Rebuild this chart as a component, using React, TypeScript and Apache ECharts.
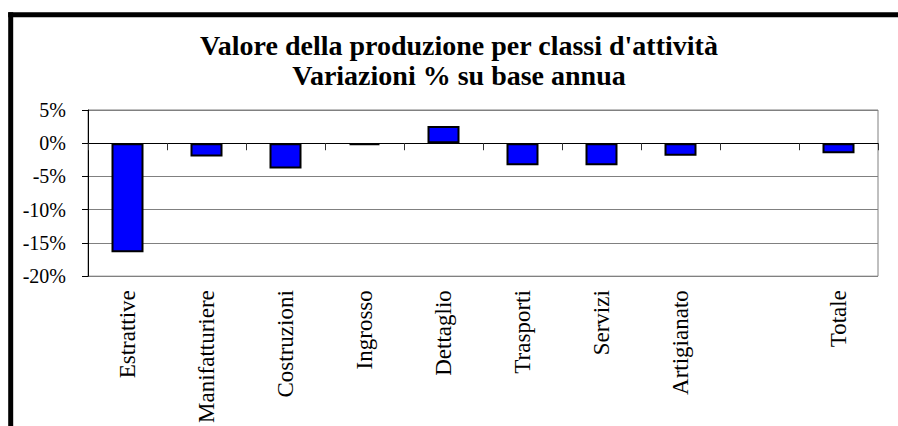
import React, { useEffect, useRef } from "react";
import * as echarts from "echarts";

const categories = [
  "Estrattive",
  "Manifatturiere",
  "Costruzioni",
  "Ingrosso",
  "Dettaglio",
  "Trasporti",
  "Servizi",
  "Artigianato",
  "",
  "Totale",
];
const variations: (number | null)[] = [-16.4, -2.0, -3.8, -0.3, 2.6, -3.3, -3.3, -1.9, null, -1.5];
const titleLines = ["Valore della produzione per classi d'attività", "Variazioni % su base annua"];
const yMin = -20;
const yMax = 5;
const yStep = 5;

export default function App() {
  const ref = useRef<HTMLDivElement>(null);
  useEffect(() => {
    if (!ref.current) return;
    const chart = echarts.init(ref.current, undefined, { renderer: "svg" });
    const serif = "Liberation Serif";
    chart.setOption({
      animation: false,
      backgroundColor: "#ffffff",
      textStyle: { fontFamily: serif },
      grid: {
        left: 88,
        top: 110,
        width: 790,
        height: 166.7,
        show: true,
        borderColor: "#808080",
        borderWidth: 1,
        backgroundColor: "transparent",
      },
      graphic: [
        {
          type: "line",
          shape: { x1: 10.7, y1: 12.3, x2: 10.7, y2: 440 },
          style: { stroke: "#000", lineWidth: 5 },
          silent: true,
        },
        {
          type: "line",
          shape: { x1: 8.2, y1: 14.8, x2: 910, y2: 14.8 },
          style: { stroke: "#000", lineWidth: 5 },
          silent: true,
        },
        {
          type: "text",
          x: 459,
          y: 30,
          style: {
            text: titleLines.join("\n"),
            fontFamily: serif,
            fontSize: 28,
            fontWeight: "bold",
            fill: "#000",
            textAlign: "center",
            textVerticalAlign: "top",
            lineHeight: 30,
          },
        },
      ],
      xAxis: [
        {
          type: "category",
          data: categories,
          position: "bottom",
          axisLine: { show: false },
          axisTick: { show: false },
          axisLabel: {
            rotate: 90,
            margin: 14,
            color: "#000",
            fontFamily: serif,
            fontSize: 23,
            interval: 0,
          },
          splitLine: { show: false },
        },
        {
          type: "category",
          data: categories,
          position: "bottom",
          axisLine: { show: true, onZero: true, onZeroAxisIndex: 0, lineStyle: { color: "#000", width: 1 } },
          axisTick: { show: true, length: 7, inside: false, interval: 0, lineStyle: { color: "#333", width: 1 } },
          axisLabel: { show: false },
          splitLine: { show: false },
        },
      ],
      yAxis: {
        type: "value",
        min: yMin,
        max: yMax,
        interval: yStep,
        axisLine: { show: true, lineStyle: { color: "#000", width: 1 } },
        axisTick: { show: true, length: 6, lineStyle: { color: "#000" } },
        axisLabel: {
          formatter: (v: number) => `${v}%`,
          margin: 22,
          color: "#000",
          fontFamily: serif,
          fontSize: 20,
        },
        splitLine: { show: true, lineStyle: { color: "#808080", width: 1 } },
      },
      series: [
        {
          type: "bar",
          xAxisIndex: 0,
          data: variations,
          barWidth: 32,
          itemStyle: { color: "#0000FF", borderColor: "#000", borderWidth: 2 },
        },
      ],
    });
    return () => chart.dispose();
  }, []);
  return (
    <div
      ref={ref}
      style={{ position: "absolute", left: 0, top: 0, width: 898, height: 426 }}
    />
  );
}
